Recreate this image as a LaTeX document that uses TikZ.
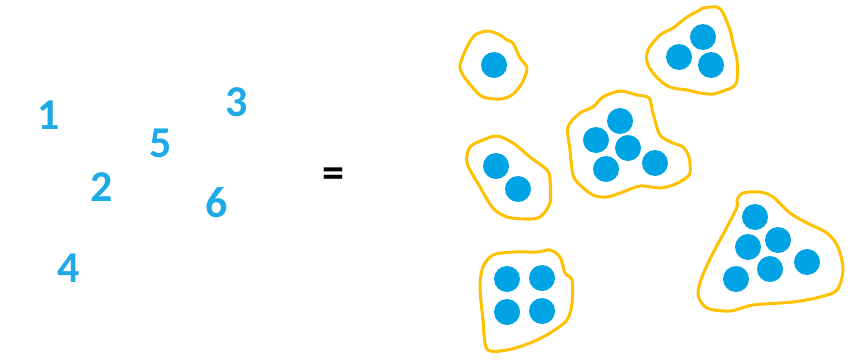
\documentclass[tikz,border=0pt]{standalone}
\usepackage{fontspec}
\setmainfont{Carlito}
\definecolor{numblue}{RGB}{30,170,230}
\definecolor{dotblue}{RGB}{0,163,228}
\definecolor{gold}{RGB}{255,192,0}
\begin{document}
\begin{tikzpicture}[x=1pt,y=-1pt,
  num/.style={inner sep=0pt,text=numblue,font=\fontsize{44}{44}\selectfont\bfseries},
  eqs/.style={inner sep=0pt,text=black,font=\fontsize{44}{44}\selectfont\bfseries},
  blob/.style={draw=gold,line width=3pt,line join=round},
  dot/.style={fill=dotblue}]
\useasboundingbox (0,0) rectangle (864,362);
% numbers
\node[num] (n1) at (49,115) {1};
\node[num] (n2) at (102,187) {2};
\node[num] (n3) at (237,102) {3};
\node[num] (n4) at (69,268) {4};
\node[num] (n5) at (161,143) {5};
\node[num] (n6) at (217,203) {6};
\node[eqs] (eq) at (333,178) {=};
% blob A
\draw[blob] plot[smooth cycle,tension=0.5] coordinates {(488,31) (475,35) (467,47) (460,65) (463,75) (473,88) (483,97) (500,99) (512,95) (522,83) (527,68) (520,58) (513,43) (507,40) (500,35)};
\fill[dot] (494,65) circle (13);
% blob B
\draw[blob] plot[smooth cycle,tension=0.5] coordinates {(703,8) (717,7) (723,13) (730,30) (733,43) (737,60) (737,80) (733,87) (723,91) (713,94) (700,93) (687,90) (673,88) (663,83) (653,73) (647,62) (648,50) (660,35) (673,28) (687,17) (700,10)};
\fill[dot] (703,37) circle (13);
\fill[dot] (679,57) circle (13);
\fill[dot] (711,65) circle (13);
% blob C
\draw[blob] plot[smooth cycle,tension=0.5] coordinates {(603,97) (620,91) (637,95) (649,98) (653,113) (660,135) (673,143) (683,147) (689,157) (690,173) (683,180) (673,185) (660,188) (640,186) (623,192) (607,197) (593,195) (580,185) (573,175) (570,150) (568,127) (580,113) (593,107)};
\fill[dot] (620,121) circle (13);
\fill[dot] (596,140) circle (13);
\fill[dot] (628,148) circle (13);
\fill[dot] (655,163) circle (13);
\fill[dot] (606,169) circle (13);
% blob D
\draw[blob] plot[smooth cycle,tension=0.5] coordinates {(497,136) (483,140) (470,147) (467,163) (480,187) (493,208) (507,217) (527,219) (540,217) (550,203) (550,180) (547,170) (530,157) (513,143)};
\fill[dot] (496,166) circle (13);
\fill[dot] (518,189) circle (13);
% blob E
\draw[blob] plot[smooth cycle,tension=0.5] coordinates {(493,255) (513,252) (537,252) (550,250) (560,257) (565,273) (572,280) (572,303) (567,320) (550,333) (530,343) (507,350) (487,349) (483,320) (480,287) (483,267)};
\fill[dot] (507,279) circle (13);
\fill[dot] (542,278) circle (13);
\fill[dot] (507,312) circle (13);
\fill[dot] (542,311) circle (13);
% blob F
\draw[blob] plot[smooth cycle,tension=0.5] coordinates {(743,193) (760,192) (773,197) (790,213) (807,223) (827,233) (838,247) (843,270) (837,290) (820,297) (793,302) (753,305) (730,311) (707,308) (698,295) (702,277) (713,253) (727,227) (737,207) (737,200)};
\fill[dot] (755,217) circle (13);
\fill[dot] (748,247) circle (13);
\fill[dot] (778,240) circle (13);
\fill[dot] (807,262) circle (13);
\fill[dot] (770,269) circle (13);
\fill[dot] (736,279) circle (13);
\end{tikzpicture}
\end{document}
